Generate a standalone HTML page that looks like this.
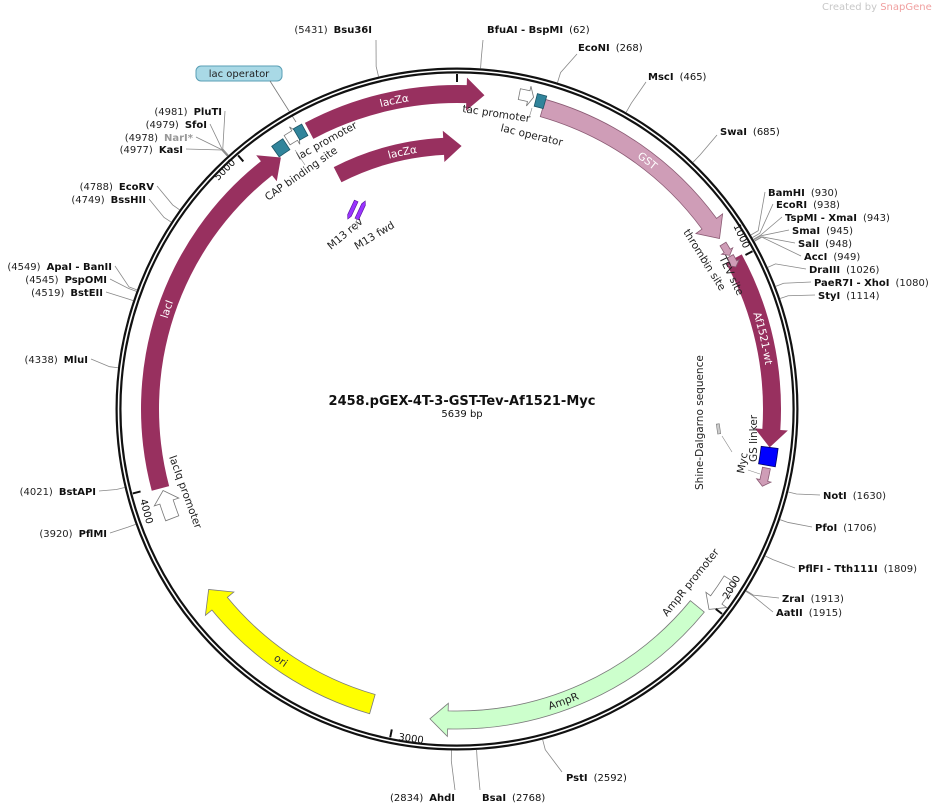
<!DOCTYPE html>
<html><head><meta charset="utf-8">
<style>
html,body{margin:0;padding:0;background:#fff;}
svg{display:block;font-family:"DejaVu Sans","Liberation Sans",sans-serif;}
.l{font-size:10px;fill:#222;}
</style></head>
<body>
<svg id="s" width="940" height="803" viewBox="0 0 940 803" xmlns="http://www.w3.org/2000/svg">
<text x="822" y="10" font-size="10" fill="#c8c8c8">Created by <tspan fill="#f0a0a0">SnapGene</tspan></text>
<text x="462" y="405" text-anchor="middle" font-size="13" font-weight="bold" fill="#111">2458.pGEX-4T-3-GST-Tev-Af1521-Myc</text>
<text x="462" y="417" text-anchor="middle" font-size="10" fill="#111">5639 bp</text>
<rect x="196" y="66" width="86" height="15" rx="5" fill="#a9d9e6" stroke="#5a9fb5" stroke-width="1"/>
<text x="239" y="77" text-anchor="middle" class="l">lac operator</text>
<line x1="270" y1="81" x2="296" y2="122" stroke="#777" stroke-width="0.8"/>
</svg>
<script>
const S=document.getElementById('s'),NS='http://www.w3.org/2000/svg';
const cx=457,cy=409;
function P(a,r){const t=a*Math.PI/180;return [cx+r*Math.sin(t),cy-r*Math.cos(t)];}
function add(tag,at,txt){const e=document.createElementNS(NS,tag);for(const k in at)e.setAttribute(k,at[k]);if(txt!==undefined)e.textContent=txt;S.appendChild(e);return e;}
function arcD(a1,a2,r,sweep){const p1=P(a1,r),p2=P(a2,r);const lg=Math.abs(a2-a1)>180?1:0;return `M${p1[0]} ${p1[1]} A${r} ${r} 0 ${lg} ${sweep} ${p2[0]} ${p2[1]}`;}
function arrow(a1,a2,r,w,fill,stroke,hpx){
 hpx=hpx||18;const hd=hpx/r*180/Math.PI;const ah=a2-hd;const ro=r+w/2,ri=r-w/2,hw=w*0.42;
 const A=P(a1,ro),B=P(ah,ro),C=P(ah,ro+hw),D=P(a2,r),E=P(ah,ri-hw),F=P(ah,ri),G=P(a1,ri);
 const lg=(ah-a1)>180?1:0;
 const d=`M${A} A${ro} ${ro} 0 ${lg} 1 ${B} L${C} L${D} L${E} L${F} A${ri} ${ri} 0 ${lg} 0 ${G} Z`;
 add('path',{d:d,fill:fill,stroke:stroke,'stroke-width':stroke=='none'?0:0.8});
}
function box(a1,a2,r,w,fill,stroke){
 const ro=r+w/2,ri=r-w/2;const A=P(a1,ro),B=P(a2,ro),C=P(a2,ri),D=P(a1,ri);
 add('path',{d:`M${A} A${ro} ${ro} 0 0 1 ${B} L${C} A${ri} ${ri} 0 0 0 ${D} Z`,fill:fill,stroke:stroke,'stroke-width':0.8});
}
let pid=0;
function arcText(a1,a2,r,txt,color,rev,size){
 const id='p'+(pid++);
 const d=rev?arcD(a2,a1,r,0):arcD(a1,a2,r,1);
 add('path',{id:id,d:d,fill:'none'});
 const t=add('text',{'font-size':size||10.5,fill:color,'text-anchor':'middle',dy:'0.35em'});
 const tp=document.createElementNS(NS,'textPath');tp.setAttribute('href','#'+id);tp.setAttribute('startOffset','50%');tp.textContent=txt;t.appendChild(tp);
}
add('circle',{cx:cx,cy:cy,r:338.5,fill:'none',stroke:'#111','stroke-width':6});
add('circle',{cx:cx,cy:cy,r:338.5,fill:'none',stroke:'#fff','stroke-width':1.6});
const M='#98305f';
arrow(-28,5,315,18,M,'none');
arcText(-20,-3,315,'lacZα','#fff',false);
arrow(-27,1,263,17,M,'none');
arcText(-20,-4,263,'lacZα','#fff',false);
arrow(15.9,57,313,18,'#cf9db7','#8a5a73');
arcText(30,45,313,'GST','#fff',false);
arrow(61.5,97,315,18,M,'none');
arcText(64,90,315,'Af1521-wt','#fff',false);
box(97,100.3,315,17,'#0000ff','#000066');
arrow(100.8,104.2,315,8,'#cf9db7','#8a5a73',6);
arrow(58.2,60.6,313,7,'#cf9db7','#8a5a73',5);
arrow(60.8,63,313,7,'#cf9db7','#8a5a73',5);
arrow(129.4,185,311,18,'#ccffcc','#7a7a7a');
arcText(150,170,311,'AmpR','#222',true);
arrow(122,128.5,322,14,'#fff','#777',12);
arrow(196,234,307,20,'#ffff00','#7a7a7a');
arcText(205,225,307,'ori','#333',true);
arrow(255,325,307,18,M,'none');
arcText(278,300,307,'lacI','#fff',false);
arrow(249,254.5,305,14,'#fff','#777',12);
box(-35.2,-32.8,315,13,'#31849b','#1b5566');
arrow(-32.3,-29.8,318,11,'#fff','#777',5);
box(-30.3,-28.6,318,13,'#31849b','#1b5566');
arrow(11.2,13.8,321,11,'#fff','#777',5);
box(14.3,16,319,13,'#31849b','#1b5566');
add('g',{transform:'translate(352,210) rotate(25)'}).innerHTML='<path d="M-2 -10 L2 -10 L2 6 L0 10 L-2 6 Z" fill="#9933ff" stroke="#551199" stroke-width="0.6"/>';
add('g',{transform:'translate(361,210) rotate(25)'}).innerHTML='<path d="M-2 10 L2 10 L2 -6 L0 -10 L-2 -6 Z" fill="#9933ff" stroke="#551199" stroke-width="0.6"/>';
add('rect',{x:717,y:424,width:3,height:10,fill:'#ccc',stroke:'#777','stroke-width':0.6,transform:'rotate(-8 718 429)'});
[[0,''],[61.9,'1000'],[127.7,'2000'],[191.5,'3000'],[255.4,'4000'],[319.2,'5000']].forEach(([a,l])=>{
 const p1=P(a,335),p2=P(a,327);add('line',{x1:p1[0],y1:p1[1],x2:p2[0],y2:p2[1],stroke:'#111','stroke-width':2});
});
function rt(x,y,ang,txt,sz,col,anchor){add('text',{x:x,y:y,transform:`rotate(${ang} ${x} ${y})`,'font-size':sz||10.5,fill:col||'#222','text-anchor':anchor||'start'},txt);}
rt(744,249,65,'1000',10,'#111','end');
rt(728,600,-60,'2000',10,'#111');
rt(398,740,8,'3000',10,'#111');
rt(140,500,75,'4000',10,'#111');
rt(236,163,-45,'5000',10,'#111','end');
rt(299,160,-29,'lac promoter');
rt(268,201,-35,'CAP binding site');
rt(462,112,8.5,'tac promoter');
rt(500,131,13.6,'lac operator');
rt(331,250,-40,'M13 rev');
rt(357,250,-31,'M13 fwd');
rt(683,232,58,'thrombin site');
rt(719,258,64,'TEV site');
rt(703,490,-90,'Shine-Dalgarno sequence');
rt(757,462,-90,'GS linker');
rt(744,474,-80,'Myc');
rt(667,617,-51,'AmpR promoter');
rt(169,457,70,'lacIq promoter');
add('line',{x1:732,y1:452,x2:722,y2:436,stroke:'#888','stroke-width':0.6});
add('line',{x1:760,y1:474,x2:748,y2:470,stroke:'#888','stroke-width':0.6});
add('line',{x1:708,y1:258,x2:704,y2:268,stroke:'#888','stroke-width':0.6});
add('line',{x1:532,y1:108,x2:529,y2:118,stroke:'#888','stroke-width':0.6});
add('line',{x1:295,y1:150,x2:305,y2:165,stroke:'#888','stroke-width':0.6});
add('line',{x1:356,y1:218,x2:358,y2:230,stroke:'#888','stroke-width':0.6});
function site(bp,name,num,x,y,side,grey){
 const a=bp*360/5639;const p=P(a,341.5);
 const t=add('text',{x:x,y:y,'font-size':10,fill:grey?'#999':'#111','text-anchor':side=='R'?'start':'end'});
 if(side=='R'){t.innerHTML=`<tspan font-weight="bold">${name}</tspan><tspan dx="6" font-weight="normal" fill="#222">(${num})</tspan>`;}
 else {t.innerHTML=`<tspan fill="#222">(${num})</tspan><tspan dx="6" font-weight="bold">${name}</tspan>`;}
 let lx,ly;
 if(side=='R'){lx=x-3;ly=y-4;}else{lx=x+3;ly=y-4;}
 add('polyline',{points:`${p[0]},${p[1]} ${P(a,350)} ${lx},${ly}`,fill:'none',stroke:'#888','stroke-width':0.8});
}
function siteT(bp,x,y,lx,ly,html,anchor){const a=bp*360/5639;const p=P(a,341.5);
 const t=add('text',{x:x,y:y,'font-size':10,fill:'#111','text-anchor':anchor});t.innerHTML=html;
 add('polyline',{points:`${p[0]},${p[1]} ${P(a,352)} ${lx},${ly}`,fill:'none',stroke:'#888','stroke-width':0.8});}
siteT(5431,372,33,376,40,'<tspan fill="#222">(5431)</tspan><tspan dx="6" font-weight="bold">Bsu36I</tspan>','end');
siteT(62,487,33,483,40,'<tspan font-weight="bold">BfuAI - BspMI</tspan><tspan dx="6">(62)</tspan>','start');
siteT(268,578,51,577,54,'<tspan font-weight="bold">EcoNI</tspan><tspan dx="6">(268)</tspan>','start');
siteT(465,648,80,646,82,'<tspan font-weight="bold">MscI</tspan><tspan dx="6">(465)</tspan>','start');
siteT(685,720,135,717,135,'<tspan font-weight="bold">SwaI</tspan><tspan dx="6">(685)</tspan>','start');
site(930,'BamHI',930,768,196,'R');
site(938,'EcoRI',938,776,208,'R');
site(943,'TspMI - XmaI',943,785,221,'R');
site(945,'SmaI',945,792,234,'R');
site(948,'SalI',948,798,247,'R');
site(949,'AccI',949,804,260,'R');
site(1026,'DraIII',1026,809,273,'R');
site(1080,'PaeR7I - XhoI',1080,814,286,'R');
site(1114,'StyI',1114,818,299,'R');
site(1630,'NotI',1630,823,499,'R');
site(1706,'PfoI',1706,815,531,'R');
site(1809,'PflFI - Tth111I',1809,798,572,'R');
site(1913,'ZraI',1913,782,602,'R');
site(1915,'AatII',1915,776,616,'R');
siteT(2592,566,781,562,772,'<tspan font-weight="bold">PstI</tspan><tspan dx="6">(2592)</tspan>','start');
siteT(2768,482,801,480,790,'<tspan font-weight="bold">BsaI</tspan><tspan dx="6">(2768)</tspan>','start');
siteT(2834,455,801,455,790,'<tspan>(2834)</tspan><tspan dx="6" font-weight="bold">AhdI</tspan>','end');
site(4981,'PluTI',4981,222,115,'L');
site(4979,'SfoI',4979,207,128,'L');
site(4978,'NarI*',4978,193,141,'L',true);
site(4977,'KasI',4977,183,153,'L');
site(4788,'EcoRV',4788,154,190,'L');
site(4749,'BssHII',4749,146,203,'L');
site(4549,'ApaI - BanII',4549,112,270,'L');
site(4545,'PspOMI',4545,107,283,'L');
site(4519,'BstEII',4519,103,296,'L');
site(4338,'MluI',4338,88,363,'L');
site(4021,'BstAPI',4021,96,495,'L');
site(3920,'PflMI',3920,107,537,'L');
</script>
</body></html>
